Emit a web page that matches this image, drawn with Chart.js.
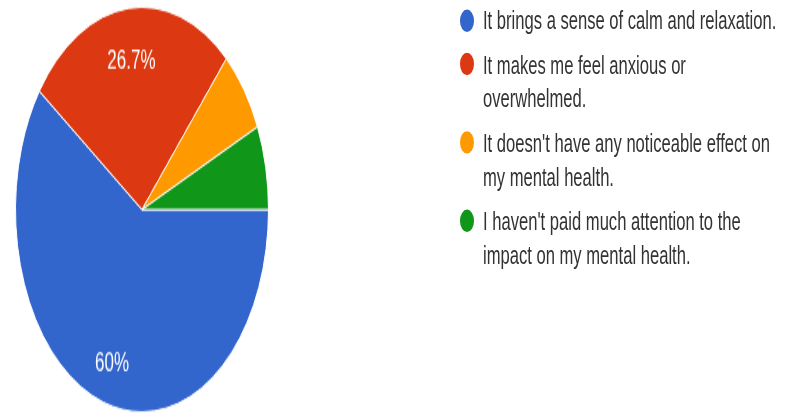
<!DOCTYPE html>
<html>
<head>
<meta charset="utf-8">
<script src="https://cdn.jsdelivr.net/npm/chart.js@4/dist/chart.umd.min.js"></script>
<style>
  html, body { margin: 0; padding: 0; background: #fff; overflow: hidden; }
  /* the whole figure is drawn flat and then stretched vertically */
  #stage {
    position: absolute; left: 0; top: 0;
    width: 789px; height: 261px;
    transform: scaleY(1.6); transform-origin: 0 0;
  }
  #pie-box { position: absolute; left: 0; top: 0; width: 284px; height: 261px; }
  #legend {
    position: absolute; left: 458px; top: 2px; width: 327px;
    margin: 0; padding: 0; list-style: none;
    font-family: "Liberation Sans", Arial, sans-serif;
    font-size: 16.6px; line-height: 21.5px; color: #333;
  }
  #legend li { position: relative; padding-left: 25px; margin-bottom: 6px; }
  #legend .dot {
    position: absolute; left: 2px; top: 3.5px;
    width: 14px; height: 14px; border-radius: 50%;
  }
</style>
</head>
<body>
<div id="stage">
  <div id="pie-box"><canvas id="pie"></canvas></div>
  <ul id="legend"></ul>
</div>
<script>
// answers and their share of responses (%)
const ANSWERS = [
  'It brings a sense of calm and relaxation.',
  'It makes me feel anxious or overwhelmed.',
  "It doesn't have any noticeable effect on my mental health.",
  "I haven't paid much attention to the impact on my mental health.",
];
const SHARES = [60, 26.7, 6.7, 6.7];
const COLORS = ['#3366cc', '#dc3912', '#ff9900', '#109618'];

// percentage text inside slices big enough to hold it
const sliceLabels = {
  id: 'sliceLabels',
  afterDatasetsDraw(chart) {
    const ctx = chart.ctx;
    const meta = chart.getDatasetMeta(0);
    const total = SHARES.reduce((s, v) => s + v, 0);
    ctx.save();
    ctx.fillStyle = '#ffffff';
    ctx.font = '17px "Liberation Sans", Arial, sans-serif';
    ctx.textAlign = 'center';
    ctx.textBaseline = 'middle';
    meta.data.forEach((arc, i) => {
      const pct = SHARES[i] / total * 100;
      if (pct < 10) return;
      const p = arc.getProps(['x', 'y', 'startAngle', 'endAngle', 'outerRadius'], true);
      const mid = (p.startAngle + p.endAngle) / 2;
      const r = p.outerRadius * 0.77;
      ctx.fillText(`${SHARES[i]}%`, p.x + Math.cos(mid) * r, p.y + Math.sin(mid) * r + 4);
    });
    ctx.restore();
  }
};

const chart = new Chart(document.getElementById('pie'), {
  type: 'pie',
  data: {
    labels: ANSWERS,
    datasets: [{
      data: SHARES,
      backgroundColor: COLORS,
      borderColor: '#ffffff',
      borderWidth: 1,
    }]
  },
  options: {
    responsive: true,
    maintainAspectRatio: false,
    animation: false,
    rotation: 90,
    layout: { padding: { top: 4, bottom: 3, left: 0, right: 0 } },
    plugins: {
      legend: { display: false },
      tooltip: { enabled: false },
    },
  },
  plugins: [sliceLabels],
});

// legend list built from the chart's own legend items
const ul = document.getElementById('legend');
Chart.overrides.pie.plugins.legend.labels.generateLabels(chart).forEach(item => {
  const li = document.createElement('li');
  const dot = document.createElement('span');
  dot.className = 'dot';
  dot.style.background = item.fillStyle;
  li.appendChild(dot);
  li.appendChild(document.createTextNode(item.text));
  ul.appendChild(li);
});
</script>
</body>
</html>
